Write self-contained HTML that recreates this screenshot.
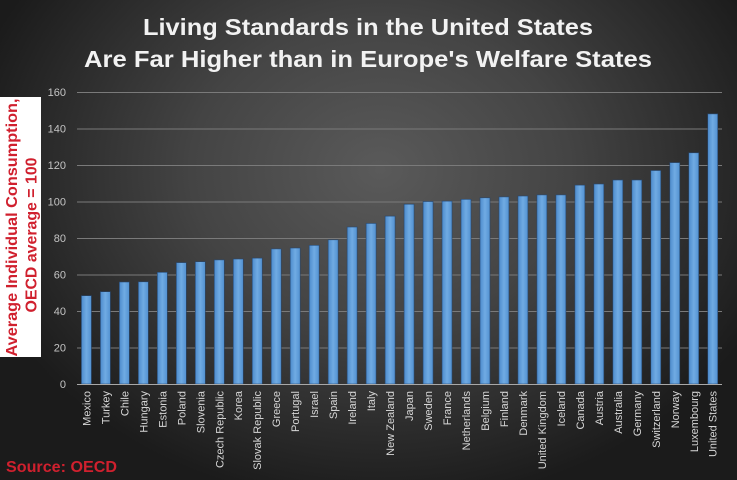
<!DOCTYPE html>
<html><head><meta charset="utf-8"><style>
html,body{margin:0;padding:0;}
body{width:737px;height:480px;overflow:hidden;background:#2a2a2a;}
svg{display:block;}
</style></head><body>
<svg width="737" height="480" viewBox="0 0 737 480" xmlns="http://www.w3.org/2000/svg">
<defs>
<radialGradient id="bg" gradientUnits="userSpaceOnUse" cx="380" cy="170" r="420" gradientTransform="translate(380 170) scale(1 0.8) translate(-380 -170)">
<stop offset="0" stop-color="#5a5a5a"/>
<stop offset="0.45" stop-color="#444444"/>
<stop offset="1" stop-color="#1b1b1b"/>
</radialGradient>
<linearGradient id="bar" x1="0" y1="0" x2="1" y2="0">
<stop offset="0" stop-color="#4d8bcc"/>
<stop offset="0.5" stop-color="#70abe3"/>
<stop offset="1" stop-color="#5291d1"/>
</linearGradient>
</defs>
<rect x="0" y="0" width="737" height="480" fill="url(#bg)"/>

<!-- Title -->
<g font-family="'Liberation Sans', sans-serif" font-weight="bold" font-size="23" fill="#f2f2f2">
<text x="143" y="35" textLength="450" lengthAdjust="spacingAndGlyphs">Living Standards in the United States</text>
<text x="84" y="67" textLength="568" lengthAdjust="spacingAndGlyphs">Are Far Higher than in Europe's Welfare States</text>
</g>

<!-- Gridlines -->
<g stroke="#7a7a7a" stroke-width="1">
<line x1="77" y1="92.5" x2="722" y2="92.5"/>
<line x1="77" y1="129" x2="722" y2="129"/>
<line x1="77" y1="165.5" x2="722" y2="165.5"/>
<line x1="77" y1="202" x2="722" y2="202"/>
<line x1="77" y1="238.5" x2="722" y2="238.5"/>
<line x1="77" y1="275" x2="722" y2="275"/>
<line x1="77" y1="311.5" x2="722" y2="311.5"/>
<line x1="77" y1="348" x2="722" y2="348"/>
</g>

<!-- Y tick labels -->
<g font-family="'Liberation Sans', sans-serif" font-size="11" fill="#c4c4c4" text-anchor="end">
<text x="66" y="96">160</text>
<text x="66" y="132.5">140</text>
<text x="66" y="169">120</text>
<text x="66" y="205.5">100</text>
<text x="66" y="242">80</text>
<text x="66" y="278.5">60</text>
<text x="66" y="315">40</text>
<text x="66" y="351.5">20</text>
<text x="66" y="388">0</text>
</g>

<!-- Bars -->
<g fill="url(#bar)" stroke="#27476e" stroke-width="0.6">
<rect x="81.4" y="295.7" width="10" height="88.3"/>
<rect x="100.38" y="291.7" width="10" height="92.3"/>
<rect x="119.36" y="282.0" width="10" height="102.0"/>
<rect x="138.34" y="281.8" width="10" height="102.2"/>
<rect x="157.32" y="272.3" width="10" height="111.7"/>
<rect x="176.30" y="262.6" width="10" height="121.4"/>
<rect x="195.28" y="261.7" width="10" height="122.3"/>
<rect x="214.26" y="259.9" width="10" height="124.1"/>
<rect x="233.24" y="259.0" width="10" height="125.0"/>
<rect x="252.22" y="258.1" width="10" height="125.9"/>
<rect x="271.20" y="248.9" width="10" height="135.1"/>
<rect x="290.18" y="248.0" width="10" height="136.0"/>
<rect x="309.16" y="245.3" width="10" height="138.7"/>
<rect x="328.14" y="239.8" width="10" height="144.2"/>
<rect x="347.12" y="227.0" width="10" height="157.0"/>
<rect x="366.10" y="223.4" width="10" height="160.6"/>
<rect x="385.08" y="216.1" width="10" height="167.9"/>
<rect x="404.06" y="204.2" width="10" height="179.8"/>
<rect x="423.04" y="201.5" width="10" height="182.5"/>
<rect x="442.02" y="201.1" width="10" height="182.9"/>
<rect x="461.00" y="199.3" width="10" height="184.7"/>
<rect x="479.98" y="197.8" width="10" height="186.2"/>
<rect x="498.96" y="196.9" width="10" height="187.1"/>
<rect x="517.94" y="196.0" width="10" height="188.0"/>
<rect x="536.92" y="194.9" width="10" height="189.1"/>
<rect x="555.90" y="194.9" width="10" height="189.1"/>
<rect x="574.88" y="185.1" width="10" height="198.9"/>
<rect x="593.86" y="184.0" width="10" height="200.0"/>
<rect x="612.84" y="180.0" width="10" height="204.0"/>
<rect x="631.82" y="180.0" width="10" height="204.0"/>
<rect x="650.80" y="170.5" width="10" height="213.5"/>
<rect x="669.78" y="162.6" width="10" height="221.4"/>
<rect x="688.76" y="152.8" width="10" height="231.2"/>
<rect x="707.74" y="113.9" width="10" height="270.1"/>
</g>

<!-- Baseline -->
<line x1="77" y1="384.5" x2="722" y2="384.5" stroke="#a8a8a8" stroke-width="1"/>

<!-- X labels -->
<g font-family="'Liberation Sans', sans-serif" font-size="11" fill="#d6d6d6" text-anchor="end">
<text transform="translate(90.4 391) rotate(-90)">Mexico</text>
<text transform="translate(109.38 391) rotate(-90)">Turkey</text>
<text transform="translate(128.36 391) rotate(-90)">Chile</text>
<text transform="translate(147.34 391) rotate(-90)">Hungary</text>
<text transform="translate(166.32 391) rotate(-90)">Estonia</text>
<text transform="translate(185.30 391) rotate(-90)">Poland</text>
<text transform="translate(204.28 391) rotate(-90)">Slovenia</text>
<text transform="translate(223.26 391) rotate(-90)">Czech Republic</text>
<text transform="translate(242.24 391) rotate(-90)">Korea</text>
<text transform="translate(261.22 391) rotate(-90)">Slovak Republic</text>
<text transform="translate(280.20 391) rotate(-90)">Greece</text>
<text transform="translate(299.18 391) rotate(-90)">Portugal</text>
<text transform="translate(318.16 391) rotate(-90)">Israel</text>
<text transform="translate(337.14 391) rotate(-90)">Spain</text>
<text transform="translate(356.12 391) rotate(-90)">Ireland</text>
<text transform="translate(375.10 391) rotate(-90)">Italy</text>
<text transform="translate(394.08 391) rotate(-90)">New Zealand</text>
<text transform="translate(413.06 391) rotate(-90)">Japan</text>
<text transform="translate(432.04 391) rotate(-90)">Sweden</text>
<text transform="translate(451.02 391) rotate(-90)">France</text>
<text transform="translate(470.00 391) rotate(-90)">Netherlands</text>
<text transform="translate(488.98 391) rotate(-90)">Belgium</text>
<text transform="translate(507.96 391) rotate(-90)">Finland</text>
<text transform="translate(526.94 391) rotate(-90)">Denmark</text>
<text transform="translate(545.92 391) rotate(-90)">United Kingdom</text>
<text transform="translate(564.90 391) rotate(-90)">Iceland</text>
<text transform="translate(583.88 391) rotate(-90)">Canada</text>
<text transform="translate(602.86 391) rotate(-90)">Austria</text>
<text transform="translate(621.84 391) rotate(-90)">Australia</text>
<text transform="translate(640.82 391) rotate(-90)">Germany</text>
<text transform="translate(659.80 391) rotate(-90)">Switzerland</text>
<text transform="translate(678.78 391) rotate(-90)">Norway</text>
<text transform="translate(697.76 391) rotate(-90)">Luxembourg</text>
<text transform="translate(716.74 391) rotate(-90)">United States</text>
</g>

<!-- Y axis title box -->
<rect x="0" y="97" width="41" height="260" fill="#ffffff"/>
<g font-family="'Liberation Sans', sans-serif" font-weight="bold" font-size="16" fill="#d0202e" text-anchor="middle">
<text transform="translate(17 227.5) rotate(-90)" textLength="258" lengthAdjust="spacingAndGlyphs">Average Individual Consumption,</text>
<text transform="translate(36.5 235) rotate(-90)" textLength="155" lengthAdjust="spacingAndGlyphs">OECD average = 100</text>
</g>

<!-- Source -->
<text x="6" y="472" font-family="'Liberation Sans', sans-serif" font-weight="bold" font-size="16" fill="#d0202e" textLength="111" lengthAdjust="spacingAndGlyphs">Source: OECD</text>
</svg>
</body></html>
